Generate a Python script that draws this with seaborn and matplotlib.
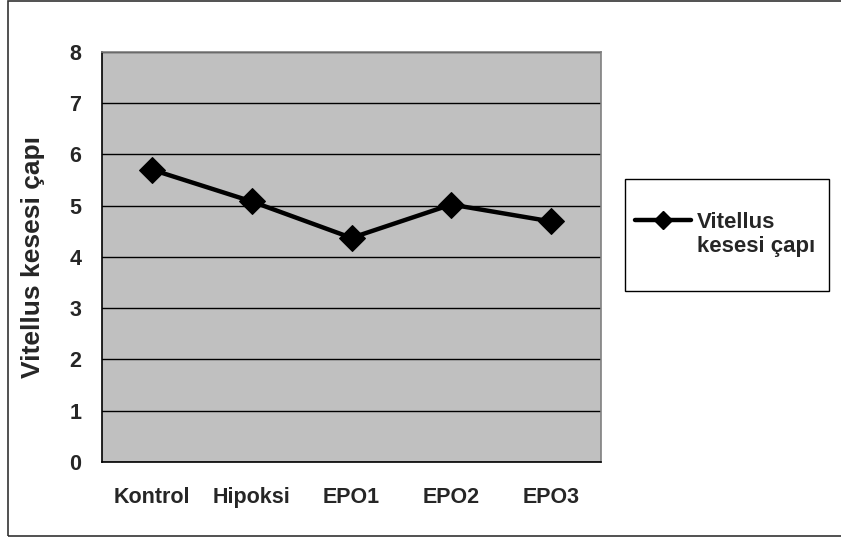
import matplotlib
matplotlib.use("Agg")
import matplotlib.pyplot as plt
import seaborn as sns
import pandas as pd
import numpy as np
from matplotlib.lines import Line2D
from matplotlib.patches import Rectangle
from matplotlib.legend_handler import HandlerLine2D

categories = ["Kontrol", "Hipoksi", "EPO1", "EPO2", "EPO3"]
values = [5.70, 5.08, 4.37, 5.02, 4.69]
series_name = "Vitellus\nkesesi çapı"
ylabel = "Vitellus kesesi çapı"
yticks = [0, 1, 2, 3, 4, 5, 6, 7, 8]

sns.set_style("white")
plt.rcParams['font.family'] = ['Liberation Sans', 'DejaVu Sans']
plt.rcParams['font.weight'] = 'bold'

df = pd.DataFrame({"cat": categories, "val": values})

W, H = 841, 537
fig = plt.figure(figsize=(W/100, H/100), dpi=100)
ax = fig.add_axes([102/W, 1-462/H, (601-102)/W, (462-51.7)/H])
ax.set_facecolor("#C0C0C0")

sns.lineplot(data=df, x="cat", y="val", ax=ax, color="black", linewidth=3.2,
             marker="D", markersize=13, markeredgecolor="black", sort=False)

ax.set_ylim(0, 8)
ax.set_xlim(-0.5, len(categories) - 0.5)
ax.set_yticks(yticks)
ax.set_yticklabels([str(t) for t in yticks], fontsize=15.5, fontweight='bold')
ax.yaxis.grid(True, color="black", linewidth=1)
ax.set_axisbelow(True)

ax.set_xticks(np.arange(-0.5, len(categories), 1.0))
ax.set_xticklabels([])
ax.set_xticks(np.arange(len(categories)), minor=True)
ax.set_xticklabels(categories, minor=True, fontsize=15.5, fontweight='bold')
ax.tick_params(axis='x', which='major', length=6, width=1, color='black', direction='out')
ax.tick_params(axis='x', which='minor', length=0, pad=18)
ax.tick_params(axis='y', which='major', length=6, width=1, color='black', direction='out', pad=9)

ax.set_xlabel("")
ax.set_ylabel(ylabel, fontsize=19, fontweight='bold')
ax.yaxis.set_label_coords((45-102)/(601-102), 0.5)

for s in ["left", "bottom"]:
    ax.spines[s].set_color("black")
    ax.spines[s].set_linewidth(1.2)
for s in ["top", "right"]:
    ax.spines[s].set_color("#808080")
    ax.spines[s].set_linewidth(1.2)


class ShiftedLineHandler(HandlerLine2D):
    def __init__(self, dy, **kw):
        super().__init__(**kw)
        self.dy = dy

    def create_artists(self, legend, orig_handle, xdescent, ydescent, width,
                       height, fontsize, trans):
        arts = super().create_artists(legend, orig_handle, xdescent, ydescent,
                                      width, height, fontsize, trans)
        for a in arts:
            a.set_ydata(np.asarray(a.get_ydata()) + self.dy)
        return arts


handle = Line2D([0], [0], color="black", linewidth=3.2, marker="D", markersize=9.5)
leg = fig.legend([handle], [series_name], loc="upper left",
                 bbox_to_anchor=(635/W, 1-212/H), bbox_transform=fig.transFigure,
                 frameon=False, prop={'size': 16, 'weight': 'bold'},
                 handlelength=2.5, handletextpad=0.3, borderpad=0, borderaxespad=0,
                 handler_map={Line2D: ShiftedLineHandler(dy=10.5)})

# legend frame box
fig.patches.append(Rectangle((625/W, 1-291/H), (829-625)/W, (291-179)/H,
                             transform=fig.transFigure, fill=False,
                             edgecolor="black", linewidth=1))

# chart outer border
fig.patches.append(Rectangle((7.5/W, 1-536/H), (W+5-7.5)/W, (536-1.3)/H,
                             transform=fig.transFigure, fill=False,
                             edgecolor="#333333", linewidth=1.2))

fig.savefig("out.png", dpi=100)
